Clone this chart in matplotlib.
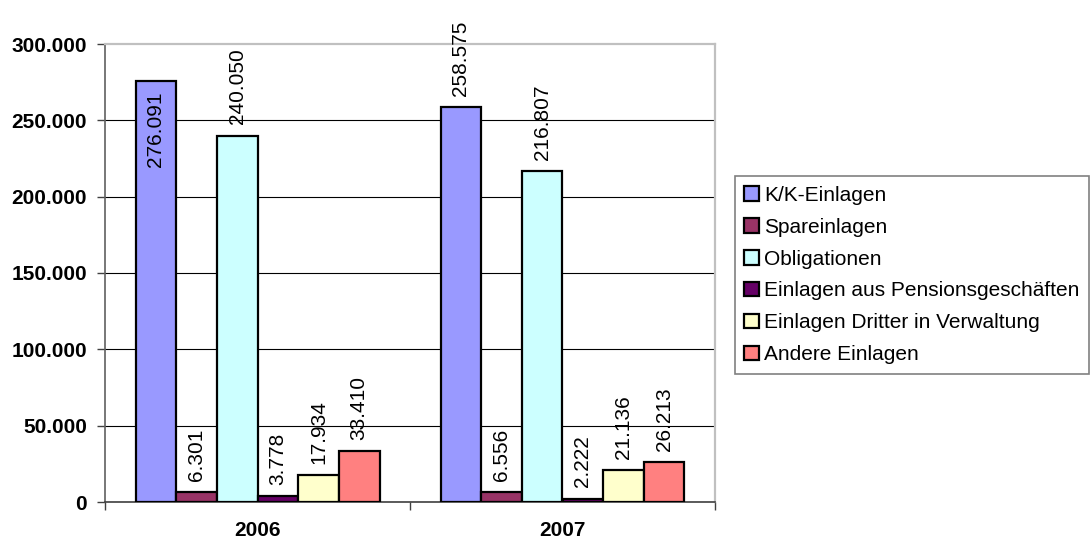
import numpy as np
import matplotlib as mpl
mpl.rcParams['font.family'] = ['Liberation Sans', 'DejaVu Sans']
import matplotlib.pyplot as plt
from matplotlib.ticker import FuncFormatter, FixedLocator


# Data
years = ['2006', '2007']
series = ['K/K-Einlagen', 'Spareinlagen', 'Obligationen',
          'Einlagen aus Pensionsgeschäften', 'Einlagen Dritter in Verwaltung',
          'Andere Einlagen']
kk = [276091, 258575]
spare = [6301, 6556]
oblig = [240050, 216807]
pension = [3778, 2222]
dritter = [17934, 21136]
andere = [33410, 26213]
values = [kk, spare, oblig, pension, dritter, andere]
colors = ['#9999ff', '#993366', '#ccffff', '#660066', '#ffffcc', '#ff8080']


def de(v):
    return '{:,.0f}'.format(v).replace(',', '.')


if __name__ == '__main__':

    fig = plt.figure(figsize=(10.92, 5.43), dpi=100)
    ax = fig.add_axes([105 / 1092, 41 / 543, 610 / 1092, 458 / 543])

    fs = 15
    x = np.arange(len(years))
    n = len(series)
    w = 0.8 / n

    handles = []
    for i, (name, vals, c) in enumerate(zip(series, values, colors)):
        pos = x + (i - (n - 1) / 2) * w
        b = ax.bar(pos, vals, width=w, color=c, edgecolor='black', lw=1.6,
                   label=name, zorder=3)
        handles.append(b)
        for xp, v in zip(pos, vals):
            if v > 270000:
                # no room above -> Excel puts it inside the bar
                ax.annotate(de(v), (xp, v), xytext=(0, -8), textcoords='offset points',
                            rotation=90, ha='center', va='top', fontsize=fs, zorder=5)
            else:
                ax.annotate(de(v), (xp, v), xytext=(0, 8), textcoords='offset points',
                            rotation=90, ha='center', va='bottom', fontsize=fs,
                            zorder=5, annotation_clip=False)

    # axes
    ax.set_xlim(-0.5, len(years) - 0.5)
    ax.set_ylim(0, 300000)
    ax.set_yticks(np.arange(0, 300001, 50000))
    ax.yaxis.set_major_formatter(FuncFormatter(lambda v, p: de(v)))
    ax.xaxis.set_major_locator(FixedLocator(np.arange(len(years) + 1) - 0.5))
    ax.xaxis.set_major_formatter(FuncFormatter(lambda v, p: ''))
    ax.xaxis.set_minor_locator(FixedLocator(x))
    ax.set_xticklabels(years, minor=True)
    ax.tick_params(axis='x', which='minor', length=0, pad=14, labelsize=fs)
    ax.tick_params(axis='x', which='major', length=6, width=1, color='#404040', direction='out')
    ax.tick_params(axis='y', length=6, width=1, color='#404040', direction='out', pad=7, labelsize=fs)
    for lab in ax.get_yticklabels() + ax.get_xticklabels(minor=True):
        lab.set_fontweight('bold')

    ax.grid(axis='y', color='black', lw=0.8, zorder=1)
    ax.set_axisbelow(True)
    gl = ax.get_ygridlines()
    gl[-1].set_visible(False)

    ax.spines['left'].set_color('#606060')
    ax.spines['bottom'].set_color('#404040')
    ax.spines['left'].set_linewidth(1.2)
    ax.spines['bottom'].set_linewidth(1.2)
    ax.spines['top'].set_color('#c0c0c0')
    ax.spines['right'].set_color('#c0c0c0')
    ax.spines['top'].set_linewidth(1.6)
    ax.spines['right'].set_linewidth(1.6)

    # Legend
    leg = fig.legend(handles=handles, labels=series, loc='center',
                     bbox_to_anchor=(912 / 1092, 1 - 275 / 543),
                     fontsize=fs, frameon=True, fancybox=False, shadow=False,
                     handlelength=0.7, handleheight=0.7, handletextpad=0.25,
                     labelspacing=0.62, borderpad=0.45, borderaxespad=0)
    leg.get_frame().set_edgecolor('#606060')
    leg.get_frame().set_linewidth(1.2)

    fig.savefig('out.png', dpi=100)
    plt.close()
